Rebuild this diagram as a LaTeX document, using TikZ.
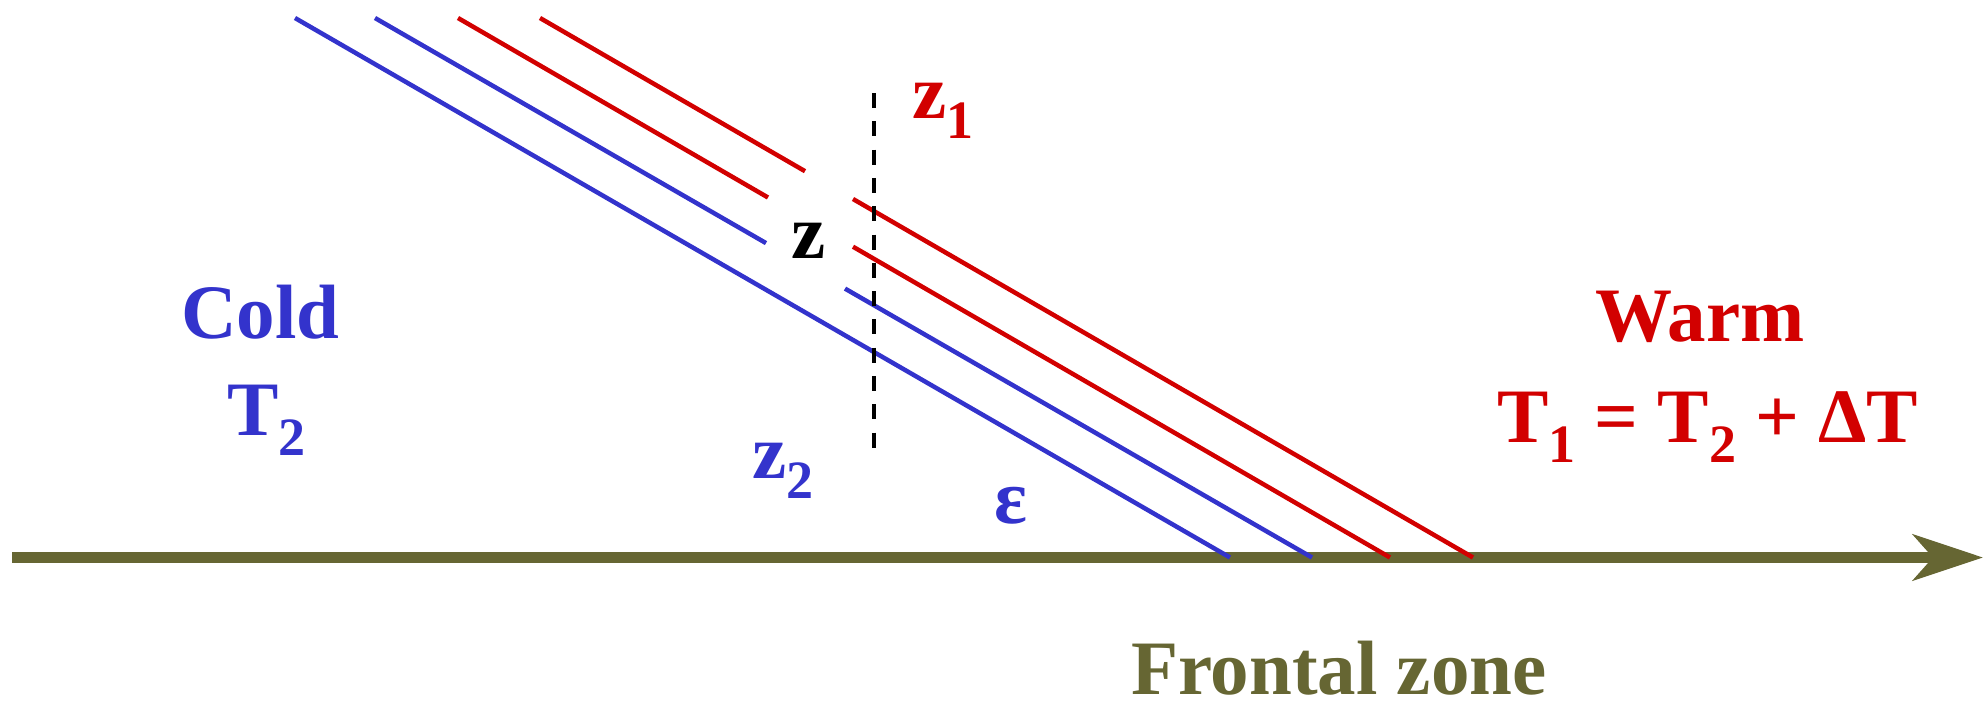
\documentclass[tikz,border=0pt]{standalone}
\usepackage{fontspec}
\setmainfont{Liberation Serif}
\usetikzlibrary{arrows.meta}
\definecolor{coldblue}{RGB}{51,51,204}
\definecolor{warmred}{RGB}{210,0,0}
\definecolor{frontolive}{RGB}{102,102,51}
\newcommand{\lowsub}[1]{\raisebox{-20pt}{\fontsize{54}{54}\selectfont #1}}
\begin{document}
\begin{tikzpicture}[x=1pt,y=-1pt,
  lbl/.style={inner sep=0pt, outer sep=0pt, anchor=base west, font=\fontsize{77}{77}\selectfont\bfseries},
  isoline/.style={line width=4.5pt},
  coldline/.style={isoline, draw=coldblue},
  warmline/.style={isoline, draw=warmred},
  axisline/.style={draw=frontolive, line width=11pt, -{Stealth[length=70pt,width=46pt,inset=20pt]}},
  levelline/.style={draw=black, line width=3.5pt, dash pattern=on 15pt off 13.3pt}]
\useasboundingbox (0,0) rectangle (1984,704);
% axis
\coordinate (ax0) at (12,557.5);
\coordinate (ax1) at (1983,557.5);
\draw[axisline] (ax0) -- (ax1);
% isolines
\coordinate (b1t) at (295,18);   \coordinate (b1b) at (1230,557.5);
\coordinate (b2t) at (375,18);   \coordinate (b2e) at (766,243.1);
\coordinate (b2s) at (845,288.6); \coordinate (b2b) at (1312,557.5);
\coordinate (r1t) at (458,18);   \coordinate (r1e) at (768,197.5);
\coordinate (r1s) at (853,246.7); \coordinate (r1b) at (1390,557.5);
\coordinate (r2t) at (540,18);   \coordinate (r2e) at (805,171.2);
\coordinate (r2s) at (853,199.0); \coordinate (r2b) at (1473,557.5);
\draw[coldline] (b1t) -- (b1b);
\draw[coldline] (b2t) -- (b2e);
\draw[coldline] (b2s) -- (b2b);
\draw[warmline] (r1t) -- (r1e);
\draw[warmline] (r1s) -- (r1b);
\draw[warmline] (r2t) -- (r2e);
\draw[warmline] (r2s) -- (r2b);
% vertical level line
\coordinate (lv0) at (874,93);
\coordinate (lv1) at (874,447.6);
\draw[levelline] (lv0) -- (lv1);
% labels
\node[lbl, text=warmred] (z1) at (912,118) {z\lowsub{1}};
\node[lbl, text=black] (z) at (791,258) {z};
\node[lbl, text=coldblue] (z2) at (752,478) {z\lowsub{2}};
\node[lbl, text=coldblue] (eps) at (994,523) {ε};
\node[lbl, text=coldblue] (cold) at (181,338) {Cold};
\node[lbl, text=coldblue] (t2) at (227,435) {T\lowsub{2}};
\node[lbl, text=warmred] (warm) at (1595,341) {Warm};
\node[lbl, text=warmred] (t1) at (1497,442) {T\lowsub{1} = T\lowsub{2} + ΔT};
\node[lbl, text=frontolive] (front) at (1131,694) {Frontal zone};
\end{tikzpicture}
\end{document}
